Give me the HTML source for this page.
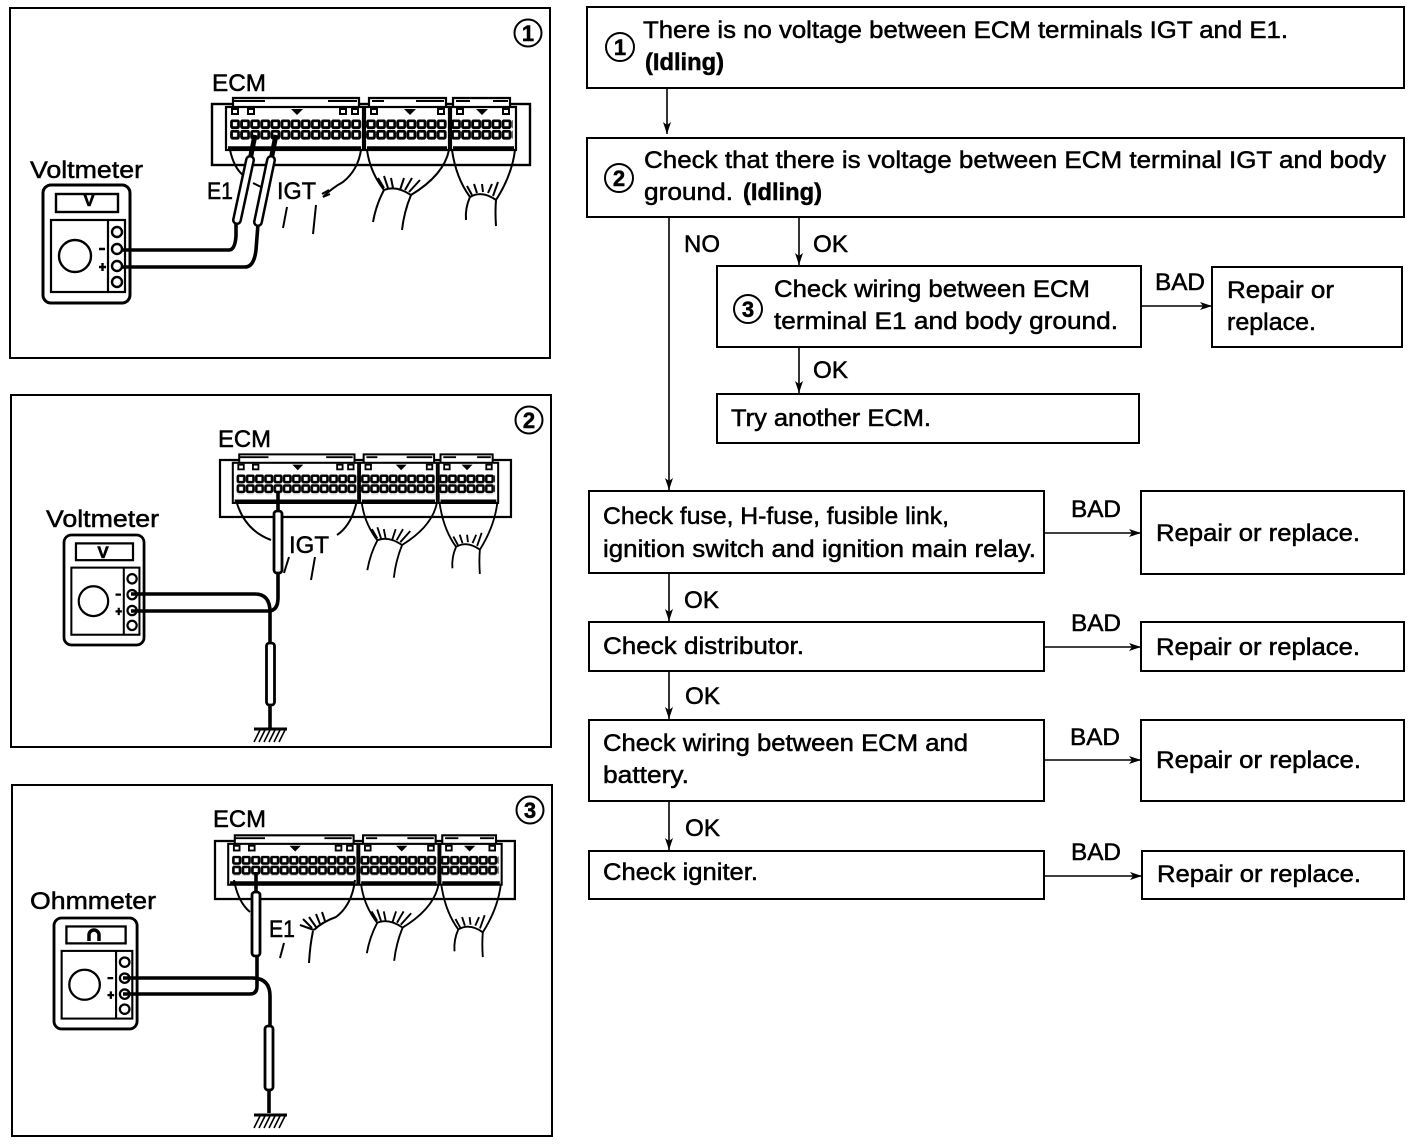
<!DOCTYPE html>
<html><head><meta charset="utf-8"><title>ECM IGT check diagram</title>
<style>
html,body{margin:0;padding:0;background:#fff}
svg{display:block}
text{font-family:"Liberation Sans",sans-serif;font-size:24px;fill:#000;stroke:#000;stroke-width:.5}
.b{font-weight:bold}
.sm{font-size:17px;font-weight:bold;stroke-width:.6}
.box{fill:none;stroke:#000;stroke-width:2}
.ln{fill:none;stroke:#000;stroke-width:1.6}
.th{fill:none;stroke:#000;stroke-width:3.6}
.w{fill:none;stroke:#000;stroke-width:2}
.p{fill:#fff;stroke:#000;stroke-width:2.8}
</style></head><body>
<svg width="1424" height="1144" viewBox="0 0 1424 1144" xmlns="http://www.w3.org/2000/svg">
<defs>
<pattern id="pinp" patternUnits="userSpaceOnUse" x="230" y="119.5" width="10.1" height="10.5">
<rect width="10.1" height="10.5" fill="#fff"/><rect x="1.5" y="1.2" width="7" height="7" rx="1.2" fill="#fff" stroke="#000" stroke-width="2.8"/>
</pattern>
<marker id="ar" markerUnits="userSpaceOnUse" markerWidth="12" markerHeight="10" refX="12" refY="5" orient="auto"><path d="M0 1 L12 5 L0 9 L3 5Z" fill="#000"/></marker>
<g id="conn">
<rect x="212" y="104" width="318" height="61" fill="#fff" stroke="#000" stroke-width="2.4"/>
<g fill="#fff" stroke="#000" stroke-width="2.2">
<path d="M233 107V98H359V107"/><path d="M369 107V98H446V107"/><path d="M453 107V98H510V107"/>
<rect x="226" y="107" width="137" height="43"/><rect x="365" y="107" width="84" height="43"/><rect x="451" y="107" width="65" height="43"/>
</g>
<rect x="230" y="119.500" width="131.3" height="21" fill="url(#pinp)"/>
<rect x="361.300" y="119.500" width="80.8" height="21" fill="url(#pinp)" transform="translate(4.7 0)"/>
<rect x="453.200" y="119.500" width="60.6" height="21" fill="url(#pinp)" transform="translate(-1.2 0)"/>
<g stroke="#000" stroke-width="3.4"><path d="M228 148H361M367 148H447M453 148H514"/><path d="M233 101H265M328 101H357M372 101H384M416 101H444M456 101H470M493 101H508" stroke-width="2"/></g>
<g fill="#fff" stroke="#000" stroke-width="2">
<rect x="232" y="109" width="6" height="5"/><rect x="248" y="109" width="6" height="5"/><rect x="340" y="109" width="6" height="5"/><rect x="352" y="109" width="6" height="5"/><rect x="371" y="109" width="6" height="5"/><rect x="438" y="109" width="6" height="5"/><rect x="457" y="109" width="6" height="5"/><rect x="503" y="109" width="6" height="5"/></g>
<path d="M291 109h12l-6 6zM404 109h12l-6 6zM476 109h12l-6 6z" fill="#000"/>
<g class="w">
<path d="M367 150Q370 172 384 190Q396 185 411 195Q444 175 449 150"/>
<path d="M384 190Q376 205 373 222M411 195Q404 212 402 230"/>
<path d="M384 188L378 178M388 188L384 176M393 188L391 178M400 190L404 178M405 190L412 178M409 192L420 180"/>
<path d="M452 150Q456 178 470 197Q482 190 496 200Q512 175 515 150"/>
<path d="M470 197Q465 208 466 220M496 200Q495 212 496 226"/>
<path d="M472 195L467 186M477 193L474 184M483 192L482 184M488 193L492 184M493 196L498 182"/>
</g>
</g>
<g id="meter">
<rect x="0" y="0" width="87" height="118" rx="8" fill="#fff" stroke="#000" stroke-width="3"/>
<rect x="13" y="9" width="62" height="18" fill="#fff" stroke="#000" stroke-width="2.4"/>
<rect x="8" y="35" width="74" height="72" fill="#fff" stroke="#000" stroke-width="2.2"/>
<path d="M65 35V107" stroke="#000" stroke-width="2.2"/>
<circle cx="32" cy="71" r="16" fill="#fff" stroke="#000" stroke-width="2.4"/>
<g fill="#fff" stroke="#000" stroke-width="2.4"><circle cx="74" cy="47" r="5"/><circle cx="74" cy="64" r="5"/><circle cx="74" cy="81" r="5"/><circle cx="74" cy="97" r="5"/></g>
<path d="M56 64H62M56 82H63M59.500 78V86" stroke="#000" stroke-width="2.4"/>
</g>
<g id="gnd"><path d="M-16 0H17" stroke="#000" stroke-width="3"/><path d="M-10 1L-16 13M-5 1L-11 13M0 1L-6 13M5 1L-1 13M10 1L4 13M15 1L9 13" stroke="#000" stroke-width="1.6"/></g>
</defs>

<!-- PANEL 1 -->
<rect class="box" x="10" y="8" width="540" height="350"/>
<circle cx="528" cy="33" r="13.500" fill="none" stroke="#000" stroke-width="2"/>
<text class="b" x="528" y="41" text-anchor="middle" style="font-size:22px">1</text>
<use href="#conn"/>
<text x="212" y="91" textLength="54" lengthAdjust="spacingAndGlyphs">ECM</text>
<text x="30" y="178" textLength="113" lengthAdjust="spacingAndGlyphs">Voltmeter</text>
<g class="w">
<path d="M230 150Q234 168 243 175"/><path d="M361 150Q358 170 343 182Q332 188 323 197"/>
<path d="M287 207L283 228M316 205L313 234"/>
<path d="M253 183L263 188M323 197L330 194M322 194L329 190"/>
</g>
<use href="#meter" x="43" y="185"/>
<text class="sm" x="89" y="206" text-anchor="middle" style="font-size:17px">V</text>
<path class="th" d="M122 250H229Q235 250 236 236V222"/>
<path class="th" d="M122 267H245Q254 267 256 250L258 224"/>
<path d="M250 160L255 135M271 160L276 135" fill="none" stroke="#000" stroke-width="5"/>
<path d="M237 220L250 160M258 222L271 160" fill="none" stroke="#000" stroke-width="10" stroke-linecap="round"/>
<path d="M237 220L250 160M258 222L271 160" fill="none" stroke="#fff" stroke-width="5" stroke-linecap="round"/>
<text x="207" y="199" textLength="26" lengthAdjust="spacingAndGlyphs">E1</text>
<text x="277" y="199" textLength="39" lengthAdjust="spacingAndGlyphs">IGT</text>

<!-- PANEL 2 -->
<rect class="box" x="11" y="395" width="540" height="352"/>
<circle cx="529" cy="420" r="13.500" fill="none" stroke="#000" stroke-width="2"/>
<text x="529" y="428" text-anchor="middle" class="b" style="font-size:22px">2</text>
<use href="#conn" transform="translate(220 460) scale(.915 .934) translate(-212 -104)"/>
<text x="218" y="447" textLength="53" lengthAdjust="spacingAndGlyphs">ECM</text>
<text x="46" y="527" textLength="113" lengthAdjust="spacingAndGlyphs">Voltmeter</text>
<g class="w">
<path d="M236 500Q244 530 271 540M357 500Q352 525 337 535"/>
<path d="M289 557L284 573M315 557L311 580"/>
</g>
<use href="#meter" transform="translate(64 535) scale(.92 .932)"/>
<text class="sm" x="103" y="558" text-anchor="middle" style="font-size:17px">V</text>
<path class="th" d="M131 594H255Q270 594 270 612V643"/>
<path class="th" d="M131 611H268Q278 611 278 598V573M278 511V493"/>
<rect class="p" x="274" y="511" width="8" height="62" rx="3"/>
<rect class="p" x="266.500" y="643" width="8" height="62" rx="3"/>
<path class="th" d="M270 705V728"/>
<use href="#gnd" x="270" y="729"/>
<text x="289" y="553" textLength="40" lengthAdjust="spacingAndGlyphs">IGT</text>

<!-- PANEL 3 -->
<rect class="box" x="12" y="785" width="540" height="351"/>
<circle cx="530" cy="810" r="13.500" fill="none" stroke="#000" stroke-width="2"/>
<text x="530" y="818" text-anchor="middle" class="b" style="font-size:22px">3</text>
<use href="#conn" transform="translate(215 841) scale(.943 .951) translate(-212 -104)"/>
<text x="213" y="827" textLength="53" lengthAdjust="spacingAndGlyphs">ECM</text>
<text x="30" y="909" textLength="126" lengthAdjust="spacingAndGlyphs">Ohmmeter</text>
<g class="w">
<path d="M234 880Q238 902 250 912M355 880Q352 905 336 917Q322 922 314 930"/>
<path d="M314 930L300 925M312 928L303 919M316 927L309 917M320 924L316 914M325 921L322 912"/>
<path d="M313 931Q310 945 309 963M284 943L280 958"/>
</g>
<use href="#meter" transform="translate(54 918) scale(.955 .94)"/>
<path d="M89 941V935a5 5 0 0 1 10 0V941" fill="none" stroke="#000" stroke-width="3.500"/>
<path class="th" d="M123 978H252Q270 978 270 996V1026"/>
<path class="th" d="M123 994H250Q257 994 257 986V957M256 892V872"/>
<rect class="p" x="252" y="892" width="8" height="64" rx="3"/>
<rect class="p" x="265" y="1026" width="8" height="64" rx="3"/>
<path class="th" d="M269 1090V1113"/>
<use href="#gnd" x="270" y="1115"/>
<text x="269" y="937" textLength="26" lengthAdjust="spacingAndGlyphs">E1</text>

<!-- FLOWCHART BOXES -->
<g class="box">
<rect x="587" y="7" width="817" height="81"/>
<rect x="587" y="138" width="817" height="79"/>
<rect x="717" y="266" width="424" height="81"/>
<rect x="1212" y="267" width="190" height="80"/>
<rect x="717" y="394" width="422" height="49"/>
<rect x="589" y="491" width="455" height="82"/>
<rect x="1141" y="491" width="263" height="83"/>
<rect x="589" y="622" width="455" height="49"/>
<rect x="1141" y="622" width="263" height="49"/>
<rect x="589" y="720" width="455" height="81"/>
<rect x="1141" y="720" width="263" height="81"/>
<rect x="589" y="851" width="455" height="48"/>
<rect x="1142" y="851" width="262" height="48"/>
</g>

<!-- ARROWS -->
<g class="ln">
<path marker-end="url(#ar)" d="M667 88V134"/>
<path marker-end="url(#ar)" d="M669 217V490"/>
<path marker-end="url(#ar)" d="M799 217V265"/>
<path marker-end="url(#ar)" d="M799 347V393"/>
<path marker-end="url(#ar)" d="M1141 306H1212"/>
<path marker-end="url(#ar)" d="M1044 533H1141"/>
<path marker-end="url(#ar)" d="M669 573V621"/>
<path marker-end="url(#ar)" d="M1044 647H1141"/>
<path marker-end="url(#ar)" d="M669 671V719"/>
<path marker-end="url(#ar)" d="M1044 760H1141"/>
<path marker-end="url(#ar)" d="M669 801V850"/>
<path marker-end="url(#ar)" d="M1044 876H1142"/>
</g>

<!-- CIRCLED NUMBERS -->
<g fill="none" stroke="#000" stroke-width="2"><circle cx="620" cy="47" r="14"/><circle cx="619" cy="178" r="14"/><circle cx="748" cy="309" r="14"/></g>
<text x="620" y="55" text-anchor="middle" class="b" style="font-size:22px">1</text>
<text x="619" y="186" text-anchor="middle" class="b" style="font-size:22px">2</text>
<text x="748" y="317" text-anchor="middle" class="b" style="font-size:22px">3</text>

<!-- FLOWCHART TEXT -->
<text x="643" y="38" textLength="645" lengthAdjust="spacingAndGlyphs">There is no voltage between ECM terminals IGT and E1.</text>
<text x="645" y="70" class="b" textLength="79" lengthAdjust="spacingAndGlyphs">(Idling)</text>
<text x="644" y="168" textLength="742" lengthAdjust="spacingAndGlyphs">Check that there is voltage between ECM terminal IGT and body</text>
<text x="644" y="200" textLength="89" lengthAdjust="spacingAndGlyphs">ground.</text>
<text x="743" y="200" class="b" textLength="79" lengthAdjust="spacingAndGlyphs">(Idling)</text>
<text x="684" y="252" textLength="36" lengthAdjust="spacingAndGlyphs">NO</text>
<text x="813" y="252" textLength="35" lengthAdjust="spacingAndGlyphs">OK</text>
<text x="774" y="297" textLength="316" lengthAdjust="spacingAndGlyphs">Check wiring between ECM</text>
<text x="774" y="329" textLength="344" lengthAdjust="spacingAndGlyphs">terminal E1 and body ground.</text>
<text x="1155" y="290" textLength="50" lengthAdjust="spacingAndGlyphs">BAD</text>
<text x="1227" y="298" textLength="107" lengthAdjust="spacingAndGlyphs">Repair or</text>
<text x="1227" y="330" textLength="89" lengthAdjust="spacingAndGlyphs">replace.</text>
<text x="813" y="378" textLength="35" lengthAdjust="spacingAndGlyphs">OK</text>
<text x="731" y="426" textLength="200" lengthAdjust="spacingAndGlyphs">Try another ECM.</text>
<text x="603" y="524" textLength="346" lengthAdjust="spacingAndGlyphs">Check fuse, H-fuse, fusible link,</text>
<text x="603" y="557" textLength="433" lengthAdjust="spacingAndGlyphs">ignition switch and ignition main relay.</text>
<text x="1071" y="517" textLength="50" lengthAdjust="spacingAndGlyphs">BAD</text>
<text x="1156" y="541" textLength="204" lengthAdjust="spacingAndGlyphs">Repair or replace.</text>
<text x="684" y="608" textLength="35" lengthAdjust="spacingAndGlyphs">OK</text>
<text x="603" y="654" textLength="201" lengthAdjust="spacingAndGlyphs">Check distributor.</text>
<text x="1071" y="631" textLength="50" lengthAdjust="spacingAndGlyphs">BAD</text>
<text x="1156" y="655" textLength="204" lengthAdjust="spacingAndGlyphs">Repair or replace.</text>
<text x="685" y="704" textLength="35" lengthAdjust="spacingAndGlyphs">OK</text>
<text x="603" y="751" textLength="365" lengthAdjust="spacingAndGlyphs">Check wiring between ECM and</text>
<text x="603" y="783" textLength="86" lengthAdjust="spacingAndGlyphs">battery.</text>
<text x="1070" y="745" textLength="50" lengthAdjust="spacingAndGlyphs">BAD</text>
<text x="1156" y="768" textLength="205" lengthAdjust="spacingAndGlyphs">Repair or replace.</text>
<text x="685" y="836" textLength="35" lengthAdjust="spacingAndGlyphs">OK</text>
<text x="603" y="880" textLength="155" lengthAdjust="spacingAndGlyphs">Check igniter.</text>
<text x="1071" y="860" textLength="50" lengthAdjust="spacingAndGlyphs">BAD</text>
<text x="1157" y="882" textLength="204" lengthAdjust="spacingAndGlyphs">Repair or replace.</text>
</svg>
</body></html>
